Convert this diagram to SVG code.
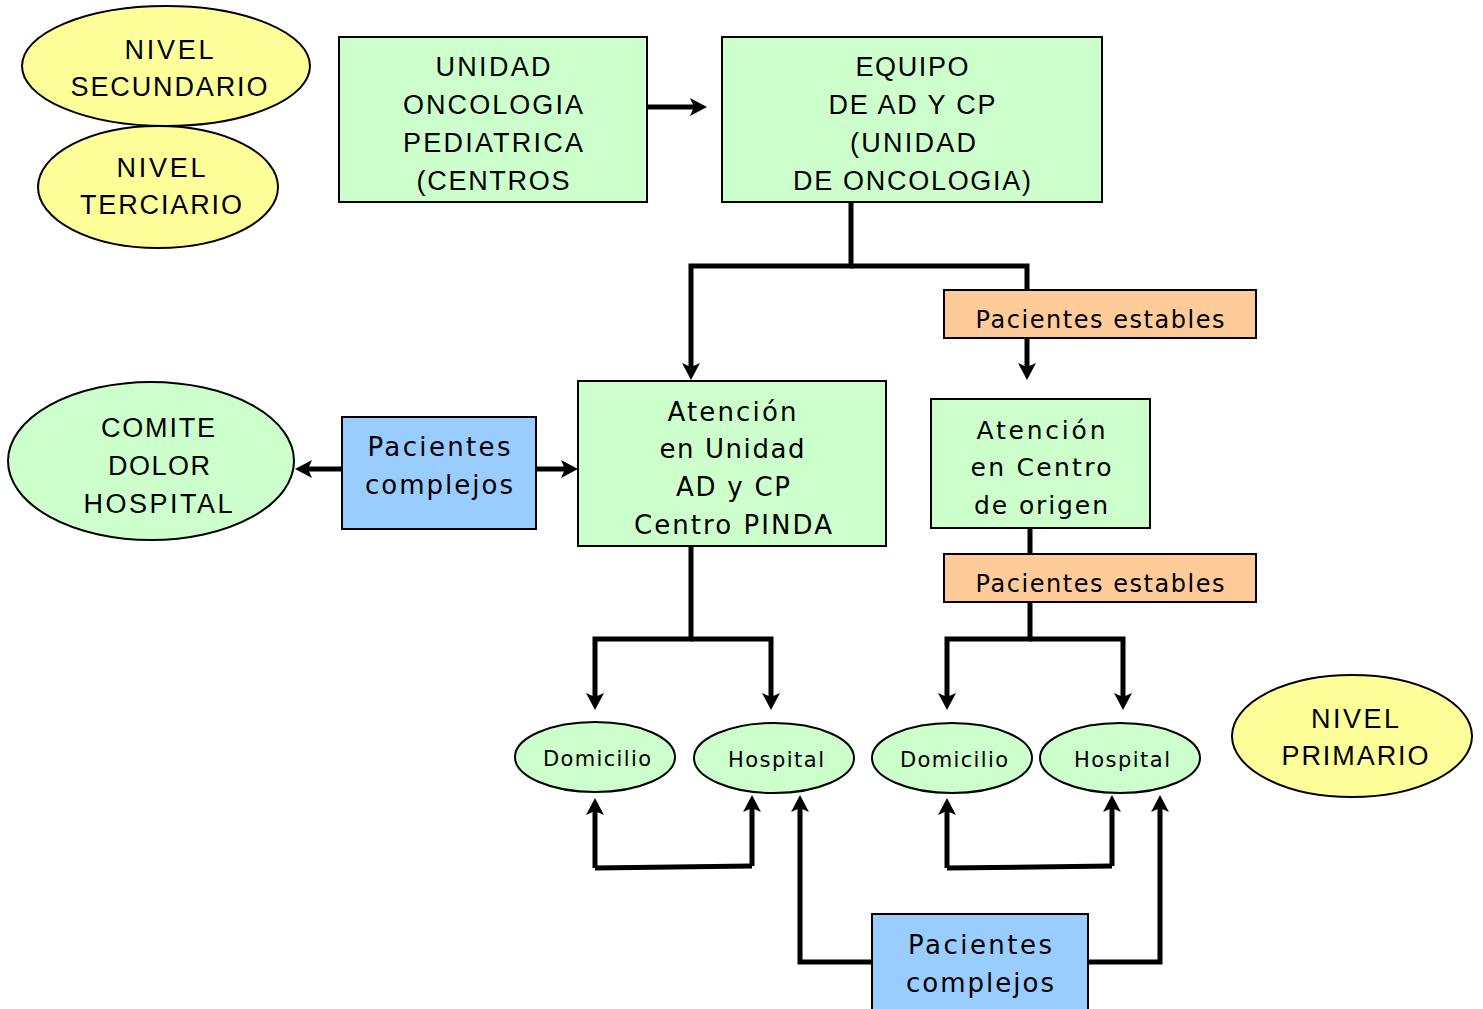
<svg xmlns="http://www.w3.org/2000/svg" width="1483" height="1009" viewBox="0 0 1483 1009">
<style>
text{font-family:"Liberation Sans",Arial,sans-serif;fill:#000;text-anchor:middle}
.y{fill:#FFFF99;stroke:#000;stroke-width:2}
.g{fill:#CCFFCC;stroke:#000;stroke-width:2}
.o{fill:#FFCC99;stroke:#000;stroke-width:2}
.b{fill:#99CCFF;stroke:#000;stroke-width:2}
.big{font-size:27px}
.mid{font-family:"DejaVu Sans",sans-serif;font-size:26px}
.vd{font-family:"DejaVu Sans",sans-serif;font-size:25px}
.est{font-family:"DejaVu Sans",sans-serif;font-size:24px}
.sm{font-family:"DejaVu Sans",sans-serif;font-size:21px}
.c{fill:none;stroke:#000;stroke-width:5}
</style>
<defs>
<marker id="ah" markerUnits="userSpaceOnUse" markerWidth="18" markerHeight="18" refX="4" refY="9" orient="auto">
<path d="M0,0 L17,9 L0,18 L4,9 Z" fill="#000"/>
</marker>
</defs>
<g id="connectors">
<path class="c" d="M647,107 H694" marker-end="url(#ah)"/>
<path class="c" d="M851,202 V266 H691 V367" marker-end="url(#ah)"/>
<path class="c" d="M851,266 H1027 V290"/>
<path class="c" d="M1027,338 V367" marker-end="url(#ah)"/>
<path class="c" d="M342,469 H308" marker-end="url(#ah)"/>
<path class="c" d="M536,469 H565" marker-end="url(#ah)"/>
<path class="c" d="M691,546 V639 H595 V697" marker-end="url(#ah)"/>
<path class="c" d="M691,639 H771 V697" marker-end="url(#ah)"/>
<path class="c" d="M1030,528 V554"/>
<path class="c" d="M1030,602 V639 H947 V697" marker-end="url(#ah)"/>
<path class="c" d="M1030,639 H1123 V697" marker-end="url(#ah)"/>
<path class="c" d="M752,866 V808" marker-end="url(#ah)"/>
<path class="c" d="M595,868 V811" marker-end="url(#ah)"/>
<path class="c" d="M595,868 L752,866"/>
<path class="c" d="M1112,866 V808" marker-end="url(#ah)"/>
<path class="c" d="M947,868 V811" marker-end="url(#ah)"/>
<path class="c" d="M947,868 L1112,866"/>
<path class="c" d="M872,962 H800 V808" marker-end="url(#ah)"/>
<path class="c" d="M1088,962 H1160 V808" marker-end="url(#ah)"/>
</g>
<g id="nivel-secundario">
<ellipse class="y" cx="166" cy="66" rx="144" ry="60"/>
<text class="big" x="169" y="59" textLength="89">NIVEL</text>
<text class="big" x="169" y="96" textLength="197">SECUNDARIO</text>
</g>
<g id="nivel-terciario">
<ellipse class="y" cx="158" cy="187" rx="120" ry="61"/>
<text class="big" x="161" y="177" textLength="89">NIVEL</text>
<text class="big" x="161" y="214" textLength="162">TERCIARIO</text>
</g>
<g id="unidad-oncologia">
<rect class="g" x="339" y="37" width="308" height="165"/>
<text class="big" x="493" y="76" textLength="115">UNIDAD</text>
<text class="big" x="493" y="114" textLength="180">ONCOLOGIA</text>
<text class="big" x="493" y="152" textLength="180">PEDIATRICA</text>
<text class="big" x="493" y="190" textLength="153">(CENTROS</text>
</g>
<g id="equipo">
<rect class="g" x="722" y="37" width="380" height="165"/>
<text class="big" x="912" y="76" textLength="113">EQUIPO</text>
<text class="big" x="912" y="114" textLength="167">DE AD Y CP</text>
<text class="big" x="913" y="152" textLength="126">(UNIDAD</text>
<text class="big" x="912" y="190" textLength="238">DE ONCOLOGIA)</text>
</g>
<g id="pacientes-estables-1">
<rect class="o" x="944" y="290" width="312" height="48"/>
<text class="est" x="1100" y="328" textLength="249">Pacientes estables</text>
</g>
<g id="atencion-unidad">
<rect class="g" x="578" y="381" width="308" height="165"/>
<text class="mid" x="732" y="421" textLength="129">Atención</text>
<text class="mid" x="732" y="458" textLength="145">en Unidad</text>
<text class="mid" x="733" y="496" textLength="114">AD y CP</text>
<text class="mid" x="733" y="534" textLength="198">Centro PINDA</text>
</g>
<g id="pacientes-complejos-1">
<rect class="b" x="342" y="417" width="194" height="112"/>
<text class="mid" x="439" y="456" textLength="143">Pacientes</text>
<text class="mid" x="439" y="494" textLength="148">complejos</text>
</g>
<g id="comite-dolor">
<ellipse class="g" cx="151" cy="461" rx="143" ry="79"/>
<text class="big" x="158" y="437" textLength="114">COMITE</text>
<text class="big" x="159" y="475" textLength="102">DOLOR</text>
<text class="big" x="158" y="513" textLength="149">HOSPITAL</text>
</g>
<g id="atencion-centro">
<rect class="g" x="931" y="399" width="219" height="129"/>
<text class="vd" x="1041" y="439" textLength="129">Atención</text>
<text class="vd" x="1041" y="476" textLength="141">en Centro</text>
<text class="vd" x="1041" y="514" textLength="134">de origen</text>
</g>
<g id="pacientes-estables-2">
<rect class="o" x="944" y="554" width="312" height="48"/>
<text class="est" x="1100" y="592" textLength="249">Pacientes estables</text>
</g>
<g id="domicilio-1">
<ellipse class="g" cx="595" cy="757" rx="80" ry="35"/>
<text class="sm" x="597" y="766" textLength="108">Domicilio</text>
</g>
<g id="hospital-1">
<ellipse class="g" cx="774" cy="758" rx="80" ry="35"/>
<text class="sm" x="776" y="767" textLength="96">Hospital</text>
</g>
<g id="domicilio-2">
<ellipse class="g" cx="952" cy="758" rx="80" ry="35"/>
<text class="sm" x="954" y="767" textLength="108">Domicilio</text>
</g>
<g id="hospital-2">
<ellipse class="g" cx="1120" cy="758" rx="80" ry="35"/>
<text class="sm" x="1122" y="767" textLength="96">Hospital</text>
</g>
<g id="nivel-primario">
<ellipse class="y" cx="1352" cy="736" rx="120" ry="61"/>
<text class="big" x="1355" y="728" textLength="88">NIVEL</text>
<text class="big" x="1355" y="765" textLength="147">PRIMARIO</text>
</g>
<g id="pacientes-complejos-2">
<rect class="b" x="872" y="914" width="216" height="96"/>
<text class="mid" x="980" y="954" textLength="144">Pacientes</text>
<text class="mid" x="980" y="992" textLength="148">complejos</text>
</g>
</svg>
